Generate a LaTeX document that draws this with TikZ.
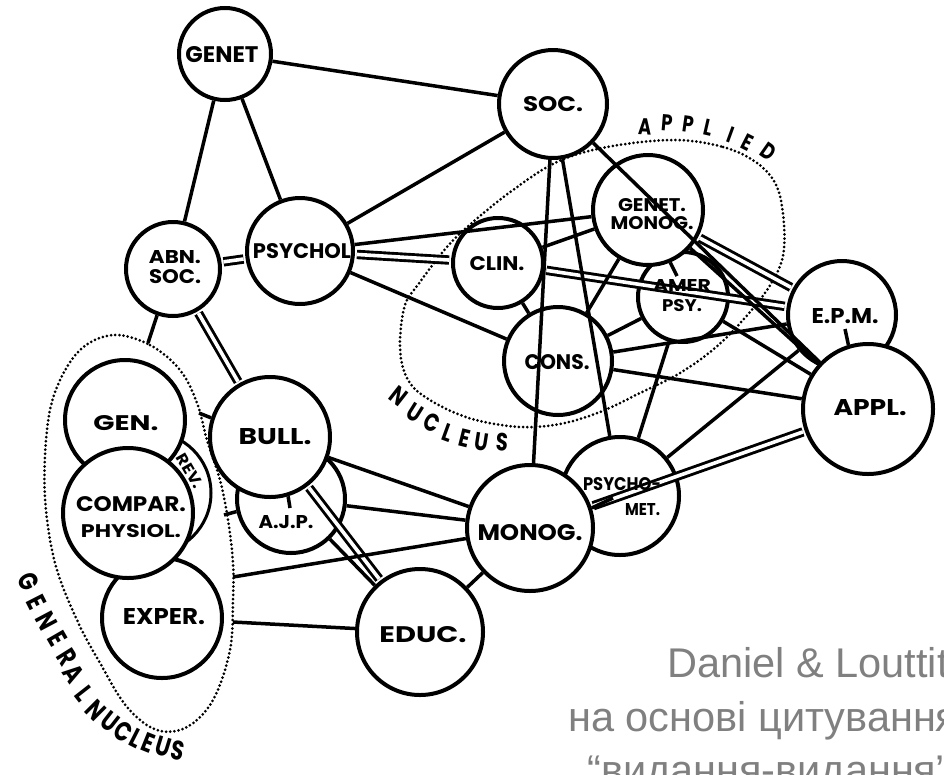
\documentclass[tikz,border=0pt]{standalone}
\usepackage{fontspec}
\usepackage{graphicx}
\setmainfont{Liberation Sans}
\newfontfamily\lab{Poppins}
\newfontfamily\capfont{Liberation Sans}
\usetikzlibrary{calc}
\definecolor{capgray}{RGB}{128,128,128}
\tikzset{
  circ/.style={circle, draw, line width=4pt, fill=white, inner sep=0pt},
  lbl/.style={align=center, inner sep=1pt},
  edge/.style={line width=3.5pt},
  dbl/.style={double, double distance=3.6pt, line width=2.9pt, shorten <=2pt, shorten >=2pt},
  dots/.style={line width=3pt, dash pattern=on 0pt off 4.2pt, line cap=round},
  lett/.style={font=\lab\bfseries\fontsize{#1}{#1}\selectfont, inner sep=0pt},
  capt/.style={font=\capfont\fontsize{41.5}{41.5}\selectfont, text=capgray, anchor=base west, inner sep=0pt},
}
\newcommand{\nar}[1]{\scalebox{0.78}[1]{#1}}
\newcommand{\fit}[3]{\resizebox{#1pt}{#2pt}{\lab\bfseries #3}}
\begin{document}
\begin{tikzpicture}[x=1pt,y=-1pt]
\useasboundingbox (0,0) rectangle (944,774);
\clip (0,0) rectangle (944,774);
\fill[white] (0,0) rectangle (944,774);

% dotted groupings
\draw[dots] plot[smooth cycle, tension=0.6] coordinates {(113,335) (150,345) (180,370) (197,403) (207,440) (220,480) (228,520) (233,563) (233,600) (230,650) (213,700) (187,727) (157,730) (127,707) (100,663) (77,620) (55,563) (45,497) (47,430) (57,387) (80,350)};
\draw[dots] plot[smooth cycle, tension=0.6] coordinates {(673,140) (723,147) (757,163) (777,187) (784,225) (782,260) (767,290) (743,320) (715,348) (680,373) (640,393) (600,412) (560,424) (520,427) (480,421) (453,412) (430,400) (413,387) (403,368) (400,340) (405,305) (417,286) (447,247) (473,222) (513,190) (557,162) (607,147)};

% circles
\node[circ, minimum size=92pt]  (GENET)   at (225,54)  {};
\node[circ, minimum size=108pt] (SOC)     at (553,104) {};
\node[circ, minimum size=94pt]  (ABN)     at (173,269) {};
\node[circ, minimum size=106pt] (PSYCHOL) at (300,251) {};
\node[circ, minimum size=90pt]  (CLIN)    at (498,263) {};
\node[circ, minimum size=90pt]  (AMER)    at (683,297) {};
\node[circ, minimum size=110pt] (GMON)    at (648,210) {};
\node[circ, minimum size=108pt] (CONS)    at (558,361) {};
\node[circ, minimum size=108pt] (EPM)     at (842,315) {};
\node[circ, minimum size=130pt] (APPL)    at (868,409) {};
\node[circ, minimum size=120pt] (EXPER)   at (162,618) {};
\node[circ, minimum size=122pt, line width=3pt] (REV) at (150,493) {};
\node[circ, minimum size=120pt] (GEN)     at (125,420) {};
\node[circ, minimum size=130pt] (COMPAR)  at (128,513) {};
\node[circ, minimum size=108pt] (AJP)     at (291,499) {};
\node[circ, minimum size=120pt] (BULL)    at (270,437) {};
\node[circ, minimum size=126pt] (EDUC)    at (420,632) {};
\node[circ, minimum size=118pt] (PMET)    at (620,496) {};
\node[circ, minimum size=126pt] (MONOG)   at (530,528) {};

% free ends of connectors
\coordinate (gnA) at (148,343);
\coordinate (gnB) at (199,413);
\coordinate (gnC) at (224,515);
\coordinate (gnD) at (233,577);
\coordinate (gnE) at (233,622);
\coordinate (pmt) at (613,498);
\coordinate (amt) at (677,276);
\coordinate (ept) at (845,329);
\coordinate (ajt) at (290,508);

% double connectors
\draw[dbl] (ABN) -- (PSYCHOL);
\draw[dbl] (PSYCHOL) -- (CLIN);
\draw[dbl] (ABN) -- (BULL);
\draw[dbl] (BULL) -- (EDUC);
\draw[dbl] (GMON) -- (EPM);
\draw[dbl] (CLIN) -- (EPM);
\draw[dbl] (APPL) -- (MONOG);

% single connectors
\draw[edge] (GENET) -- (SOC);
\draw[edge] (GENET) -- (ABN);
\draw[edge] (GENET) -- (PSYCHOL);
\draw[edge] (PSYCHOL) -- (SOC);
\draw[edge] (PSYCHOL) -- (GMON);
\draw[edge] (PSYCHOL) -- (CONS);
\draw[edge] (SOC) -- (MONOG);
\draw[edge] (SOC) -- (PMET);
\draw[edge] (SOC) -- (APPL);
\draw[edge] (CLIN) -- (GMON);
\draw[edge] (CLIN) -- (CONS);
\draw[edge] (GMON) -- (CONS);
\draw[edge] (GMON.-67) -- (amt);
\draw[edge] (GMON) -- (APPL);
\draw[edge] (AMER) -- (CONS);
\draw[edge] (AMER) -- (APPL);
\draw[edge] (AMER) -- (PMET);
\draw[edge] (CONS) -- (EPM);
\draw[edge] (CONS) -- (APPL);
\draw[edge] (ept) -- (APPL.107);
\draw[edge] (EPM) -- (PMET);
\draw[edge] (MONOG.18) -- (pmt);
\draw[edge] (ABN.-109) -- (gnA);
\draw[edge] (gnB) -- (BULL.162);
\draw[edge] (gnC) -- (AJP.193);
\draw[edge] (BULL.-73) -- (ajt);
\draw[edge] (BULL) -- (MONOG);
\draw[edge] (AJP) -- (MONOG);
\draw[edge] (AJP) -- (EDUC);
\draw[edge] (gnD) -- (MONOG);
\draw[edge] (gnE) -- (EDUC);
\draw[edge] (EDUC) -- (MONOG);

% labels
\node[lbl] (tGENET)   at (222,55)  {\fit{73}{16}{GENET}};
\node[lbl] (tSOC)     at (553,104) {\fit{60}{15}{SOC.}};
\node[lbl, font=\fontsize{10}{20}\selectfont] (tABN) at (175,267) {\fit{52}{13}{ABN.}\\\fit{52}{14}{SOC.}};
\node[lbl] (tPSYCHOL) at (302,251) {\fit{98}{15}{PSYCHOL}};
\node[lbl] (tCLIN)    at (497,264) {\fit{55}{14}{CLIN.}};
\node[lbl, font=\fontsize{10}{18}\selectfont] (tGMON) at (652,214) {\fit{68}{13}{GENET.}\\\fit{83}{13}{MONOG.}};
\node[lbl, font=\fontsize{10}{20}\selectfont] (tAMER) at (682,296) {\fit{58}{12}{AMER}\\\fit{40}{12}{PSY.}};
\node[lbl] (tCONS)    at (557,362) {\fit{65}{15}{CONS.}};
\node[lbl] (tEPM)     at (845,316) {\fit{67}{15}{E.P.M.}};
\node[lbl] (tAPPL)    at (870,408) {\fit{73}{16}{APPL.}};
\node[lbl] (tGEN)     at (126,423) {\fit{65}{15}{GEN.}};
\node[lbl, font=\fontsize{10}{26}\selectfont] (tCOMPAR) at (131,517) {\fit{110}{15}{COMPAR.}\\\fit{100}{13}{PHYSIOL.}};
\node[lbl] (tEXPER)   at (164,617) {\fit{82}{16}{EXPER.}};
\node[lbl] (tBULL)    at (275,437) {\fit{73}{16}{BULL.}};
\node[lbl] (tAJP)     at (286,522) {\fit{55}{13}{A.J.P.}};
\node[lbl] (tEDUC)    at (423,635) {\fit{87}{16}{EDUC.}};
\node[lbl] (tMONOG)   at (530,533) {\fit{105}{16}{MONOG.}};
\node[lbl, align=left, font=\fontsize{10}{25}\selectfont] (tPMET) at (622,497) {\fit{78}{13}{PSYCHO-}\\\hspace*{42pt}\fit{35}{12}{MET.}};
\node[lbl, inner sep=0pt, rotate=-60] (tREV) at (190,471) {\fit{38}{11}{REV.}};

% curved group names
\foreach \ch/\px/\py/\an [count=\i] in {A/645/127/-3, P/667/123/-5, P/688/124/-8, L/708/128/-13, I/731/135/-20, E/747/143/-27, D/768/152/-35}
  \node[lett=23, rotate=\an] (ap\i) at (\px,\py) {\nar{\ch}};
\foreach \ch/\px/\py/\an [count=\i] in {N/399/396/-38, U/415/413/-32, C/432/423/-25, L/448/433/-20, E/465/438/-14, U/482/442/-9, S/502/442/-4}
  \node[lett=25, rotate=\an] (nu\i) at (\px,\py) {\nar{\ch}};
\foreach \ch/\px/\py/\an [count=\i] in {G/29/582/-64, E/37/602/-63, N/47/621/-62, E/58/639/-60, R/67/657/-58, A/74/674/-56, L/84/694/-52, N/96/710/-45, U/110/722/-38, C/123/732/-32, L/136/738/-27, E/148/743/-22, U/163/747/-17, S/178/751/-12}
  \node[lett=27, rotate=\an] (gn\i) at (\px,\py) {\nar{\ch}};

% caption
\node[capt] (cap1) at (667,677) {Daniel \& Louttit};
\node[capt] (cap2) at (568,731) {на основі цитування};
\node[capt] (cap3) at (587,784) {“видання-видання”};
\end{tikzpicture}
\end{document}
